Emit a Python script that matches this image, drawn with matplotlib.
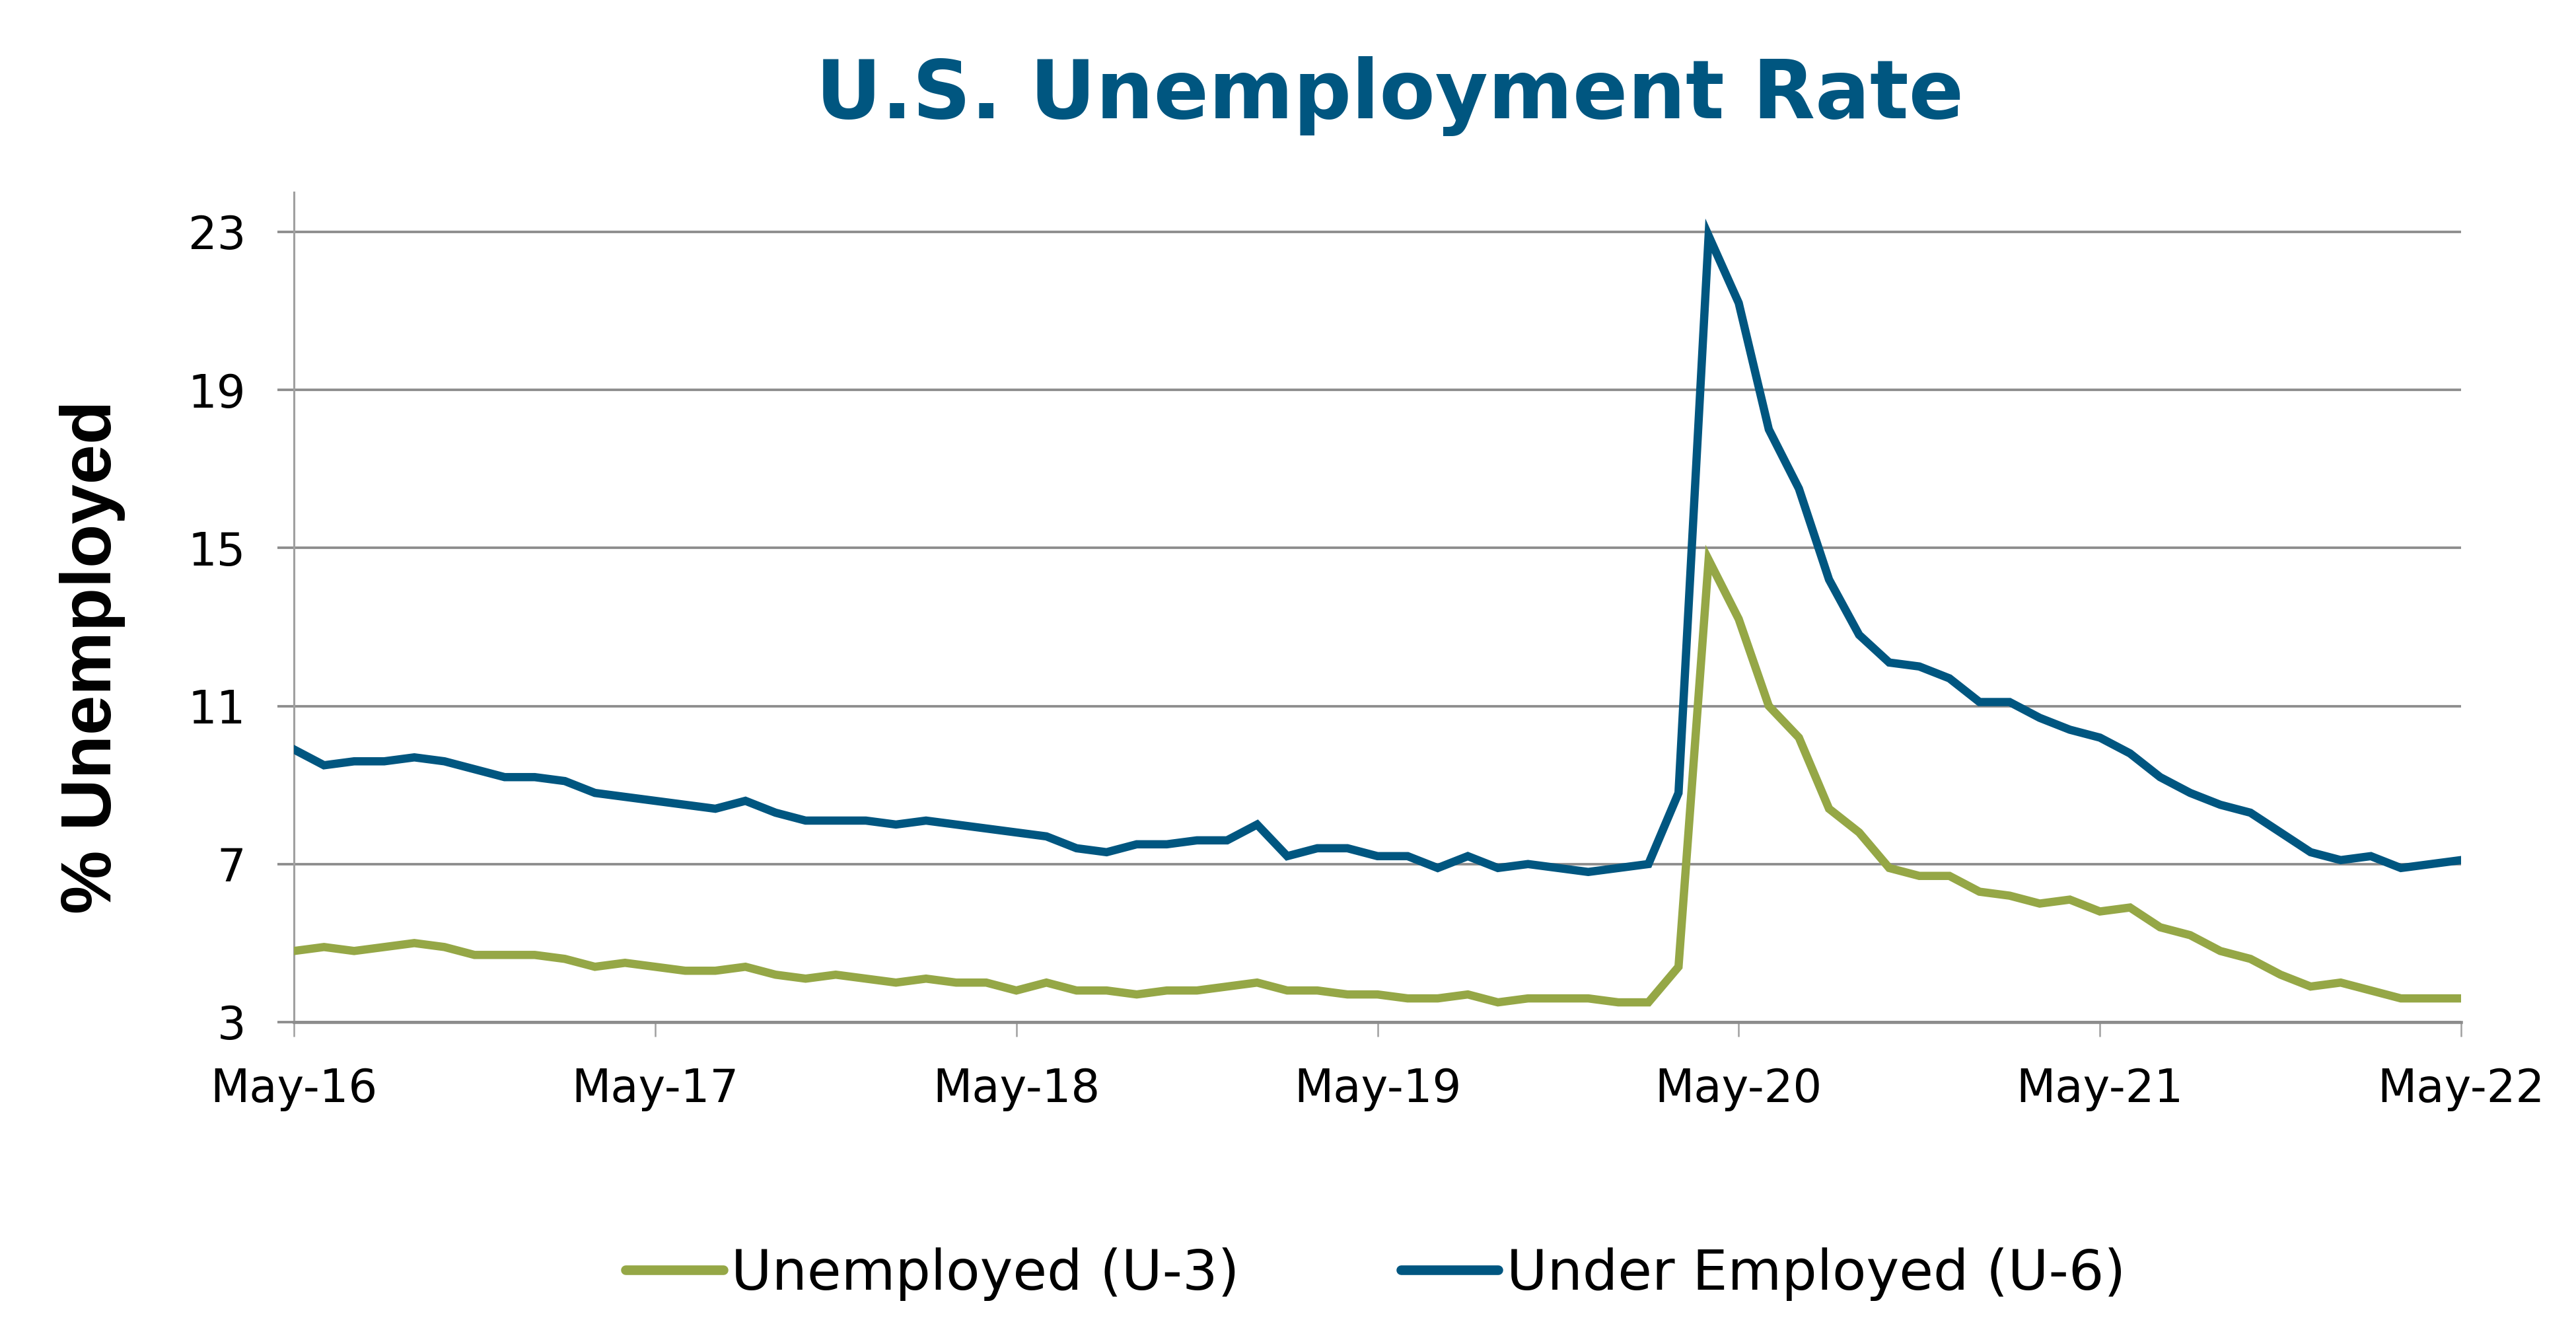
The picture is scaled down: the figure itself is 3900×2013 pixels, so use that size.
import matplotlib
matplotlib.use("Agg")
import matplotlib.pyplot as plt
from matplotlib.lines import Line2D
import numpy as np

# monthly values, May 2016 .. May 2022
u3 = [4.8, 4.9, 4.8, 4.9, 5.0, 4.9, 4.7, 4.7,
      4.7, 4.6, 4.4, 4.5, 4.4, 4.3, 4.3, 4.4, 4.2, 4.1, 4.2, 4.1,
      4.0, 4.1, 4.0, 4.0, 3.8, 4.0, 3.8, 3.8, 3.7, 3.8, 3.8, 3.9,
      4.0, 3.8, 3.8, 3.7, 3.7, 3.6, 3.6, 3.7, 3.5, 3.6, 3.6, 3.6,
      3.5, 3.5, 4.4, 14.7, 13.2, 11.0, 10.2, 8.4, 7.8, 6.9, 6.7, 6.7,
      6.3, 6.2, 6.0, 6.1, 5.8, 5.9, 5.4, 5.2, 4.8, 4.6, 4.2, 3.9,
      4.0, 3.8, 3.6, 3.6, 3.6]
u6 = [9.9, 9.5, 9.6, 9.6, 9.7, 9.6, 9.4, 9.2,
      9.2, 9.1, 8.8, 8.7, 8.6, 8.5, 8.4, 8.6, 8.3, 8.1, 8.1, 8.1,
      8.0, 8.1, 8.0, 7.9, 7.8, 7.7, 7.4, 7.3, 7.5, 7.5, 7.6, 7.6,
      8.0, 7.2, 7.4, 7.4, 7.2, 7.2, 6.9, 7.2, 6.9, 7.0, 6.9, 6.8,
      6.9, 7.0, 8.8, 22.9, 21.2, 18.0, 16.5, 14.2, 12.8, 12.1, 12.0, 11.7,
      11.1, 11.1, 10.7, 10.4, 10.2, 9.8, 9.2, 8.8, 8.5, 8.3, 7.8, 7.3,
      7.1, 7.2, 6.9, 7.0, 7.1]
tick_labels = ["May-16", "May-17", "May-18", "May-19", "May-20", "May-21", "May-22"]
y_ticks = [3, 7, 11, 15, 19, 23]

BLUE = "#005680"
GREEN = "#95A746"
GRID = "#8c8c8c"

x = np.arange(len(u3))

fig = plt.figure(figsize=(13, 6.71), dpi=300)
ax = fig.add_axes([0.1141, 0.2315, 0.8413, 0.6239])

ax.plot(x, u3, color=GREEN, lw=3.0, solid_joinstyle="miter", zorder=3)
ax.plot(x, u6, color=BLUE, lw=3.0, solid_joinstyle="miter", zorder=4)

ax.set_xlim(0, len(u3) - 1)
ax.set_ylim(3, 24)
ax.set_yticks(y_ticks)
ax.set_xticks(np.arange(0, len(u3), 12))
ax.set_xticklabels(tick_labels)

ax.set_axisbelow(True)
ax.yaxis.grid(True, color=GRID, lw=0.9)
for s in ["top", "right"]:
    ax.spines[s].set_visible(False)
ax.spines["left"].set_color("#a0a0a0")
ax.spines["left"].set_linewidth(0.75)
ax.spines["bottom"].set_color(GRID)
ax.spines["bottom"].set_linewidth(1.1)

ax.tick_params(axis="y", length=6, width=0.9, color=GRID, pad=11.5,
               labelsize=16.5, labelcolor="black")
ax.tick_params(axis="x", length=5.3, width=0.6, color="#a0a0a0", pad=11,
               labelsize=16.5, labelcolor="black")
for lab in ax.get_xticklabels() + ax.get_yticklabels():
    lab.set_family("DejaVu Sans")

fig.text(0.036, 0.506, "% Unemployed", rotation=90, ha="center", va="center",
         family="Liberation Sans", fontweight="bold", fontsize=26)

fig.text(0.5395, 0.911, "U.S. Unemployment Rate", ha="center", va="baseline",
         family="DejaVu Sans", fontweight="bold", fontsize=29.5, color=BLUE)

handles = [
    Line2D([0], [0], color=GREEN, lw=3.5, solid_capstyle="round"),
    Line2D([0], [0], color=BLUE, lw=3.5, solid_capstyle="round"),
]
fig.legend(handles, ["Unemployed (U-3)", "Under Employed (U-6)"],
           loc="center", bbox_to_anchor=(0.534, 0.042), ncol=2, frameon=False,
           fontsize=20.2, handlelength=1.75, handletextpad=0.15, columnspacing=2.9)

fig.savefig("out.png", dpi=300)
